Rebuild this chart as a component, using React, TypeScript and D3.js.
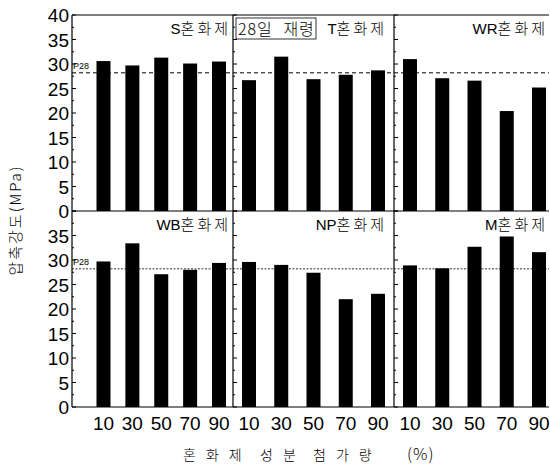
import React from "react";
import * as d3 from "d3";

// 혼화제 성분 첨가량 (%)
const dosages = ["10", "30", "50", "70", "90"];

const topPanels = ["S", "T", "WR"];
const bottomPanels = ["WB", "NP", "M"];
const panelSuffix = "혼화제";

// 28일 압축강도 (MPa)
const sValues = [30.6, 29.7, 31.3, 30.1, 30.5];
const tValues = [26.7, 31.5, 26.9, 27.8, 28.7];
const wrValues = [31.0, 27.1, 26.6, 20.4, 25.2];
const wbValues = [29.7, 33.4, 27.1, 28.0, 29.4];
const npValues = [29.6, 29.0, 27.4, 22.0, 23.1];
const mValues = [28.9, 28.3, 32.7, 34.8, 31.6];

const topValues = [sValues, tValues, wrValues];
const bottomValues = [wbValues, npValues, mValues];

const f28 = 28.2;
const topTicks = [0, 5, 10, 15, 20, 25, 30, 35, 40];
const bottomTicks = [0, 5, 10, 15, 20, 25, 30, 35];
const xTitleWords = ["혼화제", "성분", "첨가량", "(%)"];

const W = 550;
const H = 466;
const left = 72;
const right = 549;
const colEdges = [72, 233, 394, 549];
const labelInset = [5, 10, 4];
const barW = 14;

const yTop = d3.scaleLinear().domain([0, 40]).range([211, 15]);
const yBot = d3.scaleLinear().domain([0, 40]).range([407, 211]);

// first column is packed a little differently than the other two
const xCols = colEdges.slice(0, 3).map((x0, i) =>
  d3
    .scalePoint()
    .domain(dosages)
    .range(i === 0 ? [x0 + 31.5, x0 + 147] : [x0 + 16, x0 + 145])
);

const numFont = "Liberation Sans, Arial, sans-serif";
const krFont = "Noto Sans CJK KR, sans-serif";

const minor = d3.range(0, 40.01, 2.5);

function Panel({ y, values, label, col, refDash }) {
  const x = xCols[col];
  const x0 = colEdges[col];
  const x1 = colEdges[col + 1];
  const ls = 3;
  return (
    <g>
      {values.map((v, i) => (
        <rect
          key={i}
          x={x(dosages[i]) - barW / 2}
          y={y(v)}
          width={barW}
          height={y(0) - y(v)}
          fill="#000"
        />
      ))}
      <line
        x1={x0}
        x2={x1}
        y1={y(f28)}
        y2={y(f28)}
        stroke="#000"
        strokeWidth={refDash === "top" ? 1 : 0.8}
        strokeDasharray={refDash === "top" ? "4,3" : "2,1.5"}
      />
      {col > 0 &&
        minor.map((t) => (
          <line
            key={t}
            x1={x0}
            x2={x0 + (t % 5 === 0 ? 4 : 2)}
            y1={y(t)}
            y2={y(t)}
            stroke="#000"
          />
        ))}
      <text
        x={x1 - labelInset[col] + ls}
        y={y(40) + 19}
        textAnchor="end"
        fontSize={15}
      >
        <tspan fontFamily={numFont} fontWeight={400}>{label}</tspan>
        <tspan fontFamily={krFont} fontWeight={300} letterSpacing={ls}>{panelSuffix}</tspan>
      </text>
    </g>
  );
}

export default function App() {
  return (
    <svg width={W} height={H} style={{ position: "fixed", top: 0, left: 0 }}>
      <rect width={W} height={H} fill="#fff" />
      {topValues.map((vals, i) => (
        <Panel key={"t" + i} y={yTop} values={vals} label={topPanels[i]} col={i} refDash="top" />
      ))}
      {bottomValues.map((vals, i) => (
        <Panel key={"b" + i} y={yBot} values={vals} label={bottomPanels[i]} col={i} refDash="bot" />
      ))}

      {/* 28일 재령 box */}
      <rect x={236} y={18} width={80} height={21} fill="#fff" stroke="#000" strokeWidth={0.8} />
      <text x={238} y={35} fontFamily={krFont} fontSize={16} fontWeight={300} letterSpacing={1} wordSpacing={6}>
        28일 재령
      </text>

      {/* frame */}
      <line x1={left} x2={right} y1={yTop(40)} y2={yTop(40)} stroke="#000" strokeWidth={1.2} />
      <line x1={left} x2={right} y1={yTop(0)} y2={yTop(0)} stroke="#000" strokeWidth={1.2} />
      <line x1={left} x2={right} y1={yBot(0)} y2={yBot(0)} stroke="#000" strokeWidth={1.2} />
      {colEdges.slice(0, 3).map((c) => (
        <line key={c} x1={c} x2={c} y1={yTop(40)} y2={yBot(0)} stroke="#000" strokeWidth={1.2} />
      ))}

      {/* left axis ticks */}
      {[yTop, yBot].map((y, k) =>
        minor.map((t) => (
          <line
            key={k + "-" + t}
            x1={left}
            x2={left + (t % 5 === 0 ? 4 : 2)}
            y1={y(t)}
            y2={y(t)}
            stroke="#000"
          />
        ))
      )}
      {topTicks.map((t) => (
        <text key={"tt" + t} x={left - 3} y={yTop(t) + 7} textAnchor="end" fontFamily={numFont} fontSize={19}>
          {t}
        </text>
      ))}
      {bottomTicks.map((t) => (
        <text key={"bt" + t} x={left - 3} y={yBot(t) + 7} textAnchor="end" fontFamily={numFont} fontSize={19}>
          {t}
        </text>
      ))}

      {/* P28 labels */}
      {[yTop, yBot].map((y, k) => (
        <text key={"p" + k} x={left + 1} y={y(f28) - 4} fontFamily={numFont} fontSize={9}>
          P28
        </text>
      ))}

      {/* x tick labels */}
      {xCols.map((x, i) =>
        dosages.map((d) => (
          <text
            key={i + d}
            x={x(d)}
            y={yBot(0) + 23}
            textAnchor="middle"
            fontFamily={numFont}
            fontSize={19}
          >
            {d}
          </text>
        ))
      )}

      {/* axis titles */}
      {xTitleWords.map((w, i) => (
        <text
          key={w}
          x={[183, 260, 313, 407][i]}
          y={460}
          fontFamily={krFont}
          fontSize={w === "(%)" ? 16 : 14}
          fontWeight={300}
          letterSpacing={w === "(%)" ? 1 : 10}
        >
          {w}
        </text>
      ))}
      <text
        transform={`translate(21, 220) rotate(-90)`}
        textAnchor="middle"
        fontFamily={krFont}
        fontSize={15}
        fontWeight={300}
        letterSpacing={2}
      >
        압축강도(MPa)
      </text>
    </svg>
  );
}
